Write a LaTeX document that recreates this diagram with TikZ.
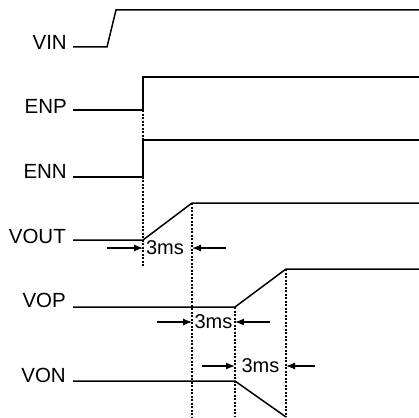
\documentclass[tikz,border=0pt]{standalone}
\usepackage{fontspec}
\setmainfont{Liberation Sans}
\usetikzlibrary{arrows.meta}
\begin{document}
\begin{tikzpicture}[x=1pt,y=-1pt,
  sig/.style={line width=1.5pt,line join=miter},
  guide/.style={line width=1.2pt,dash pattern=on 2pt off 1.5pt},
  dimarrow/.style={line width=1.2pt,-{Latex[length=9pt,width=7pt]}},
  lbl/.style={anchor=base east,inner sep=0pt,font=\fontsize{20.5}{24}\selectfont},
  ms/.style={inner sep=0pt,font=\fontsize{20}{24}\selectfont}]
\useasboundingbox (0,0) rectangle (419,417);
% labels
\node[lbl] (lvin) at (67,50) {VIN};
\node[lbl] (lenp) at (67,113) {ENP};
\node[lbl] (lenn) at (67,178) {ENN};
\node[lbl] (lvout) at (66,243) {VOUT};
\node[lbl] (lvop) at (66,307) {VOP};
\node[lbl] (lvon) at (66,382) {VON};
% coordinates
\coordinate (vin0) at (73,47); \coordinate (vin1) at (107,47);
\coordinate (vin2) at (116,10); \coordinate (vin3) at (419,10);
\coordinate (enp0) at (73,110); \coordinate (enp1) at (143,110);
\coordinate (enp2) at (143,77); \coordinate (enp3) at (419,77);
\coordinate (enn0) at (73,177); \coordinate (enn1) at (143,177);
\coordinate (enn2) at (143,140); \coordinate (enn3) at (419,140);
\coordinate (vo0) at (73,240); \coordinate (vo1) at (143,240);
\coordinate (vo2) at (192,203); \coordinate (vo3) at (419,203);
\coordinate (vp0) at (73,307); \coordinate (vp1) at (235,307);
\coordinate (vp2) at (286,269); \coordinate (vp3) at (419,269);
\coordinate (vn0) at (73,381); \coordinate (vn1) at (235,381);
\coordinate (vn2) at (286,417);
% signals
\draw[sig] (vin0) -- (vin1) -- (vin2) -- (vin3);
\draw[sig] (enp0) -- (enp1) -- (enp2) -- (enp3);
\draw[sig] (enn0) -- (enn1) -- (enn2) -- (enn3);
\draw[sig] (vo0) -- (vo1) -- (vo2) -- (vo3);
\draw[sig] (vp0) -- (vp1) -- (vp2) -- (vp3);
\draw[sig] (vn0) -- (vn1) -- (vn2);
% guides
\coordinate (g1b) at (143,267);
\coordinate (g2b) at (192,417);
\coordinate (g3b) at (235,417);
\coordinate (g4b) at (286,417);
\draw[guide] (enp1) -- (g1b);
\draw[guide] (vo2) -- (g2b);
\draw[guide] (vp1) -- (g3b);
\draw[guide] (vp2) -- (g4b);
% dimensions
\node[ms] (t1) at (165,248) {3ms};
\node[ms] (t2) at (213.5,322) {3ms};
\node[ms] (t3) at (260.5,366) {3ms};
\coordinate (a1s) at (107,248); \coordinate (a1e) at (143,248);
\coordinate (b1s) at (226,248); \coordinate (b1e) at (192,248);
\coordinate (a2s) at (157,322); \coordinate (a2e) at (192,322);
\coordinate (b2s) at (270,322); \coordinate (b2e) at (235,322);
\coordinate (a3s) at (202,366); \coordinate (a3e) at (235,366);
\coordinate (b3s) at (315,366); \coordinate (b3e) at (286,366);
\draw[dimarrow] (a1s) -- (a1e);
\draw[dimarrow] (b1s) -- (b1e);
\draw[dimarrow] (a2s) -- (a2e);
\draw[dimarrow] (b2s) -- (b2e);
\draw[dimarrow] (a3s) -- (a3e);
\draw[dimarrow] (b3s) -- (b3e);
\end{tikzpicture}
\end{document}
